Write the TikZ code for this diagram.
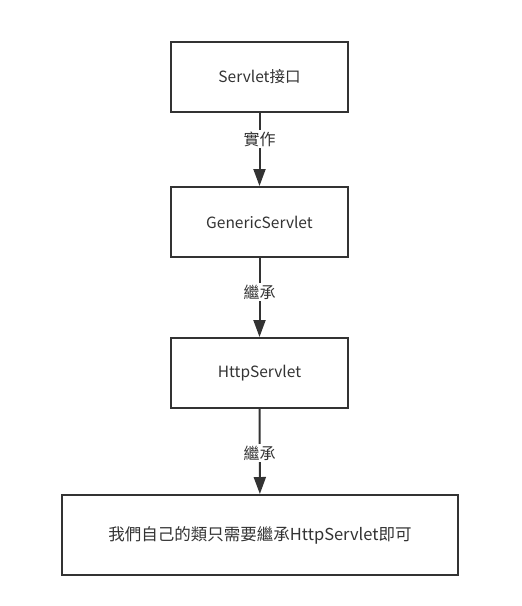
\documentclass[tikz,border=0pt]{standalone}
\usepackage{fontspec}
\setmainfont{Noto Sans CJK TC}
\usetikzlibrary{arrows.meta}
\definecolor{txt}{HTML}{333333}
\definecolor{ln}{HTML}{333333}
\tikzset{
  box/.style={draw=ln, line width=2pt, fill=white, text=txt, font=\fontsize{15.5}{18}\selectfont, inner sep=0pt, anchor=north west},
  conn/.style={draw=ln, line width=2pt, -{Triangle[length=17pt,width=12pt]}},
  lbl/.style={fill=white, text=txt, font=\fontsize{16}{18}\selectfont, inner sep=1.5pt}
}
\begin{document}
\begin{tikzpicture}[x=1pt,y=-1pt]
\useasboundingbox (0,0) rectangle (522,606);
\node[box, minimum width=177pt, minimum height=70pt] (a) at (170,41) {Servlet接口};
\node[box, minimum width=177pt, minimum height=70pt] (b) at (170,186) {GenericServlet};
\node[box, minimum width=177pt, minimum height=70pt] (c) at (170,337) {HttpServlet};
\node[box, minimum width=396pt, minimum height=80pt, font=\fontsize{16.5}{18}\selectfont] (d) at (61,494) {我們自己的類只需要繼承HttpServlet即可};
\draw[conn] (a) -- node[lbl, pos=0.36] {實作} (b);
\draw[conn] (b) -- node[lbl, pos=0.43] {繼承} (c);
\draw[conn] (c) -- node[lbl, pos=0.52] {繼承} (d);
\end{tikzpicture}
\end{document}
